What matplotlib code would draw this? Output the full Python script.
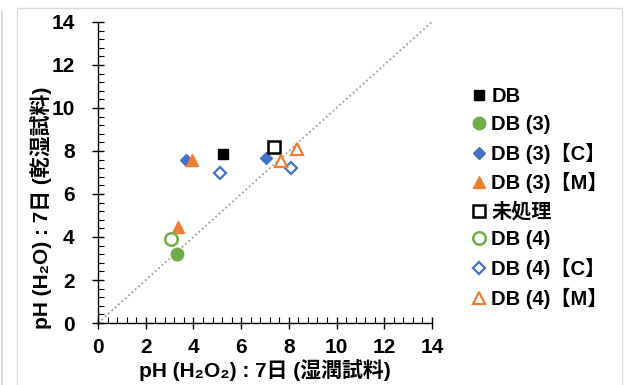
import matplotlib
matplotlib.use('Agg')
import matplotlib.pyplot as plt
from matplotlib.ticker import MultipleLocator
from matplotlib.patches import Rectangle
from matplotlib.lines import Line2D

plt.rcParams['font.family'] = ['Liberation Sans', 'Noto Sans CJK JP', 'DejaVu Sans']
plt.rcParams['font.weight'] = 'bold'

# series: (label, x values, y values)
labels = ['DB', 'DB (3)', 'DB (3)【C】', 'DB (3)【M】', '未処理', 'DB (4)', 'DB (4)【C】', 'DB (4)【M】']
db_x, db_y = [5.24], [7.86]
db3_x, db3_y = [3.29], [3.21]
db3c_x, db3c_y = [3.67, 7.06], [7.6, 7.67]
db3m_x, db3m_y = [3.94, 3.35], [7.6, 4.47]
mi_x, mi_y = [7.38], [8.19]
db4_x, db4_y = [3.04], [3.93]
db4c_x, db4c_y = [5.11, 8.09], [6.98, 7.21]
db4m_x, db4m_y = [7.67, 8.34], [7.53, 8.09]

green = '#70ad47'
blue = '#4472c4'
orange = '#ed7d31'

fig = plt.figure(figsize=(6.25, 3.85), dpi=100)
ax = fig.add_axes([0.157, 0.161, 0.534, 0.782])

# chart borders
fig.add_artist(Rectangle((17/625, -0.1), 605/625, 1.1 - 8/385, transform=fig.transFigure,
                         fill=False, edgecolor='#d9d9d9', lw=1))
fig.add_artist(Line2D([2/625, 2/625], [0, 1 - 12/385], transform=fig.transFigure, color='#d9d9d9', lw=1.5))

ax.plot([0, 14], [0, 14], linestyle=(0, (1, 1.5)), color='#a0a0a0', lw=1.3, zorder=1)

ms = 8
ax.plot(db_x, db_y, 's', color='black', ms=ms - 1, label=labels[0], ls='none')
ax.plot(db3_x, db3_y, 'o', color=green, ms=ms + 1, label=labels[1], ls='none')
ax.plot(db3c_x, db3c_y, 'D', color=blue, ms=ms - 2, label=labels[2], ls='none')
ax.plot(db3m_x, db3m_y, '^', color=orange, ms=ms, label=labels[3], ls='none')
ax.plot(mi_x, mi_y, 's', mfc='white', mec='black', mew=1.8, ms=ms, label=labels[4], ls='none')
ax.plot(db4_x, db4_y, 'o', mfc='white', mec=green, mew=1.8, ms=ms + 1, label=labels[5], ls='none')
ax.plot(db4c_x, db4c_y, 'D', mfc='white', mec=blue, mew=1.6, ms=ms - 2, label=labels[6], ls='none')
ax.plot(db4m_x, db4m_y, '^', mfc='white', mec=orange, mew=1.6, ms=ms + 1, label=labels[7], ls='none')

ax.set_xlim(0, 14)
ax.set_ylim(0, 14)
ax.xaxis.set_major_locator(MultipleLocator(2))
ax.yaxis.set_major_locator(MultipleLocator(2))
ax.xaxis.set_minor_locator(MultipleLocator(0.4))
ax.yaxis.set_minor_locator(MultipleLocator(0.4))
ax.tick_params(which='major', direction='inout', length=8, width=1, labelsize=15)
ax.tick_params(axis='x', which='major', pad=7)
ax.tick_params(axis='y', which='major', pad=13)
ax.tick_params(which='minor', direction='in', length=4, width=0.8)
for s in ['top', 'right']:
    ax.spines[s].set_visible(False)
for s in ['left', 'bottom']:
    ax.spines[s].set_linewidth(1)
for t in ax.get_xticklabels() + ax.get_yticklabels():
    t.set_fontweight('bold')

ax.set_xlabel('pH (H₂O₂) : 7日 (湿潤試料)', fontsize=15, fontweight='bold')
ax.set_ylabel('pH (H₂O) : 7日 (乾湿試料)', fontsize=15, fontweight='bold')
ax.xaxis.set_label_coords(0.5, -0.12)
ax.yaxis.set_label_coords(-0.137, 0.382)

leg = ax.legend(loc='upper left', bbox_to_anchor=(1.1, 0.81), frameon=False, fontsize=14.5,
                handlelength=0.6, handletextpad=0.3, labelspacing=0.43, borderaxespad=0)
for t in leg.get_texts():
    t.set_fontweight('bold')

fig.savefig('out.png', dpi=100)
